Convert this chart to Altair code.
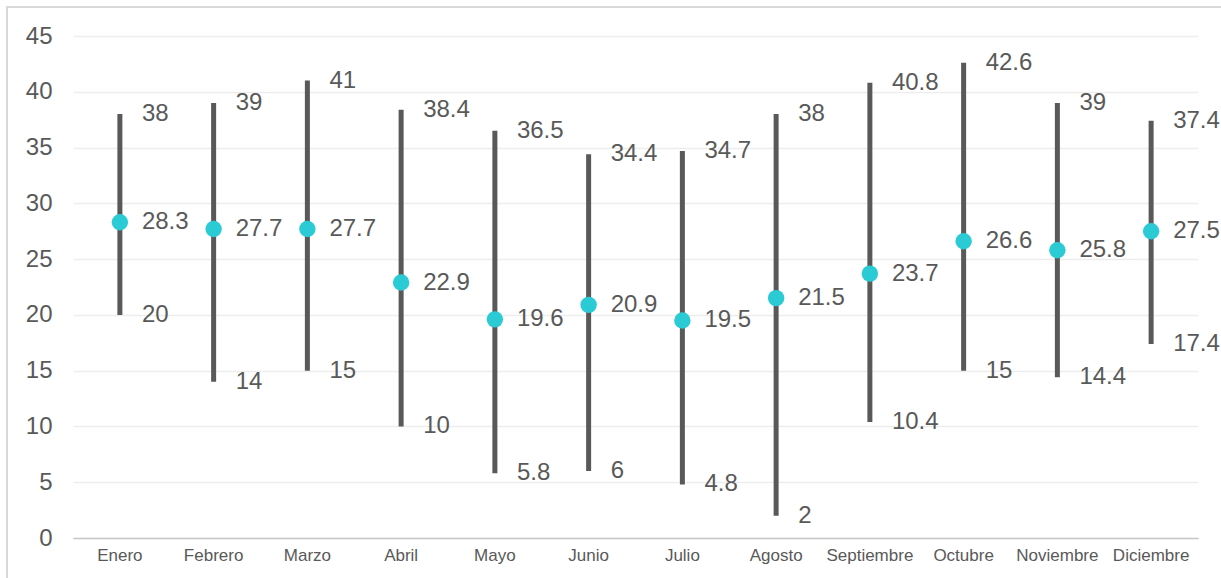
import altair as alt
import pandas as pd

months = ["Enero", "Febrero", "Marzo", "Abril", "Mayo", "Junio", "Julio",
          "Agosto", "Septiembre", "Octubre", "Noviembre", "Diciembre"]
highs = [38, 39, 41, 38.4, 36.5, 34.4, 34.7, 38, 40.8, 42.6, 39, 37.4]
mids = [28.3, 27.7, 27.7, 22.9, 19.6, 20.9, 19.5, 21.5, 23.7, 26.6, 25.8, 27.5]
lows = [20, 14, 15, 10, 5.8, 6, 4.8, 2, 10.4, 15, 14.4, 17.4]

df = pd.DataFrame({"mes": months, "alto": highs, "medio": mids, "bajo": lows})

W, H = 1125, 502
TEXT = "#595959"
FONT = "Liberation Sans"

x = alt.X("mes:N", sort=months, title=None,
          scale=alt.Scale(paddingInner=0, paddingOuter=0),
          axis=alt.Axis(labelAngle=0, labelFontSize=17, labelColor=TEXT, labelFont=FONT,
                        ticks=False, domainColor="#C8C8C8", domainWidth=1.5,
                        labelPadding=9, grid=False))
y_scale = alt.Scale(domain=[0, 45], nice=False)
y_axis = alt.Axis(values=list(range(0, 50, 5)), labelFontSize=24, labelColor=TEXT,
                  labelFont=FONT, ticks=False, domain=False, gridColor="#EDEDED",
                  gridWidth=1.5, labelPadding=21)

def Y(field):
    return alt.Y(f"{field}:Q", scale=y_scale, title=None, axis=y_axis)

base = alt.Chart(df)

frame = base.mark_rect(fillOpacity=0, stroke="#D9D9D9", strokeWidth=2).encode(
    x=alt.value(-66), x2=alt.value(W + 40), y=alt.value(-29), y2=alt.value(H + 60)
).transform_filter(alt.datum.mes == "Enero")

rules = base.mark_rule(color="#595959", strokeWidth=5).encode(
    x=x, y=Y("bajo"), y2="alto:Q",
)

points = base.mark_circle(color="#2ACBD5", size=270, opacity=1).encode(
    x=x, y=Y("medio")
)

def label(field):
    return base.mark_text(align="left", baseline="middle", dx=22, fontSize=24,
                          color=TEXT, font=FONT).encode(
        x=x, y=Y(field), text=alt.Text(f"{field}:Q")
    )

chart = alt.layer(rules, points, label("alto"), label("medio"), label("bajo"), frame).properties(
    width=W, height=H,
    background="white",
    autosize=alt.AutoSizeParams(type="none"),
    padding={"left": 73, "top": 36, "right": 23, "bottom": 40},
).configure_view(strokeOpacity=0, strokeWidth=0)

chart.save("out.html", embed_options={"renderer": "svg", "actions": False})
